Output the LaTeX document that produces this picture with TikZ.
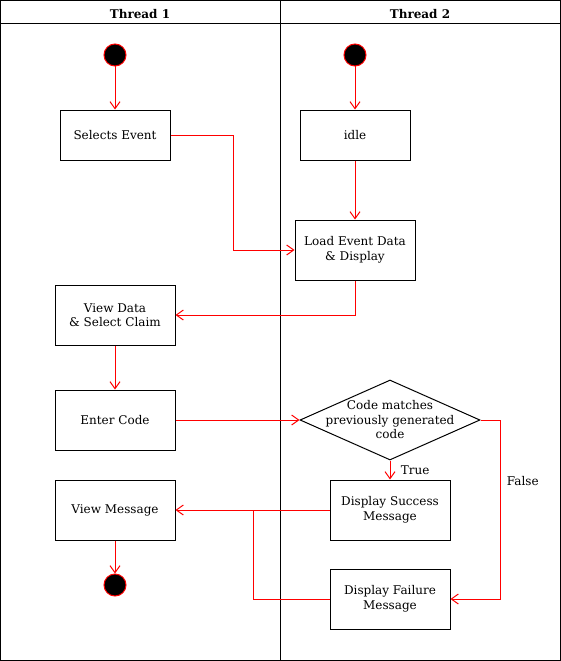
\documentclass[tikz,border=0pt]{standalone}
\usepackage{fontspec}
\setmainfont{DejaVu Serif}
\usetikzlibrary{shapes.geometric,arrows.meta}

\begin{document}
\begin{tikzpicture}[x=1pt,y=-1pt,line width=1pt]
              \tikzstyle{every node} = [font=\fontsize{12}{14.5}\selectfont];
              \tikzstyle{act} = [draw, rectangle, align=center, minimum width=120pt, minimum height=60pt, inner sep=0pt];
              \tikzstyle{dot} = [draw=red, fill=black, circle, minimum size=22pt, inner sep=0pt];
              \tikzstyle{decision} = [draw, diamond, minimum width=180pt, minimum height=80pt, inner sep=0pt];
              \tikzstyle{flow} = [draw=red, -{Straight Barb[length=7pt,width=10pt]}];
              \useasboundingbox (0,0) rectangle (561,661);
              % swimlanes
              \draw (0.5,0.5) rectangle (560.5,660.5);
              \draw (0.5,23.5) -- (560.5,23.5);
              \draw (280.5,0.5) -- (280.5,660.5);
              \node[font=\fontsize{12}{14.5}\selectfont\bfseries] (t1) at (140,14) {Thread 1};
              \node[font=\fontsize{12}{14.5}\selectfont\bfseries] (t2) at (420,14) {Thread 2};
              % thread 1
              \node[dot] (s1) at (115,55) {};
              \node[act, minimum width=110pt, minimum height=50pt] (sel) at (115,135) {Selects Event};
              \node[act] (view) at (115,315) {View Data\\\& Select Claim};
              \node[act] (code) at (115,420) {Enter Code};
              \node[act] (msg) at (115,510) {View Message};
              \node[dot] (e1) at (115,585) {};
              % thread 2
              \node[dot] (s2) at (355,55) {};
              \node[act, minimum width=110pt, minimum height=50pt] (idle) at (355,135) {idle};
              \node[act] (load) at (355,250) {Load Event Data\\\& Display};
              \node[decision] (chk) at (390,420) {};
              \node[align=center] (chktxt) at (chk) {Code matches\\previously generated\\code};
              \node[act] (ok) at (390,510) {Display Success\\Message};
              \node[act] (fail) at (390,599) {Display Failure\\Message};
              \coordinate (j) at (253,510);
              % flows
              \path[flow] (s1) -- (sel);
              \path[flow] (sel.east) -| (233,250) -- (load.west);
              \path[flow] (s2) -- (idle);
              \path[flow] (idle) -- (load);
              \path[flow] (load.south) |- (view.east);
              \path[flow] (view) -- (code);
              \path[flow] (code) -- (chk.west);
              \path[flow] (chk.south) -- node[right=7pt, pos=0.5] (tt) {True} (ok.north);
              \path[flow] (chk.east) -| (500,599) node[pos=0.67, right=3pt] (ff) {False} -- (fail.east);
              \path[flow] (ok.west) -- (msg.east);
              \draw[red] (fail.west) -| (j);
              \path[flow] (msg) -- (e1);
            \end{tikzpicture}
\end{document}
